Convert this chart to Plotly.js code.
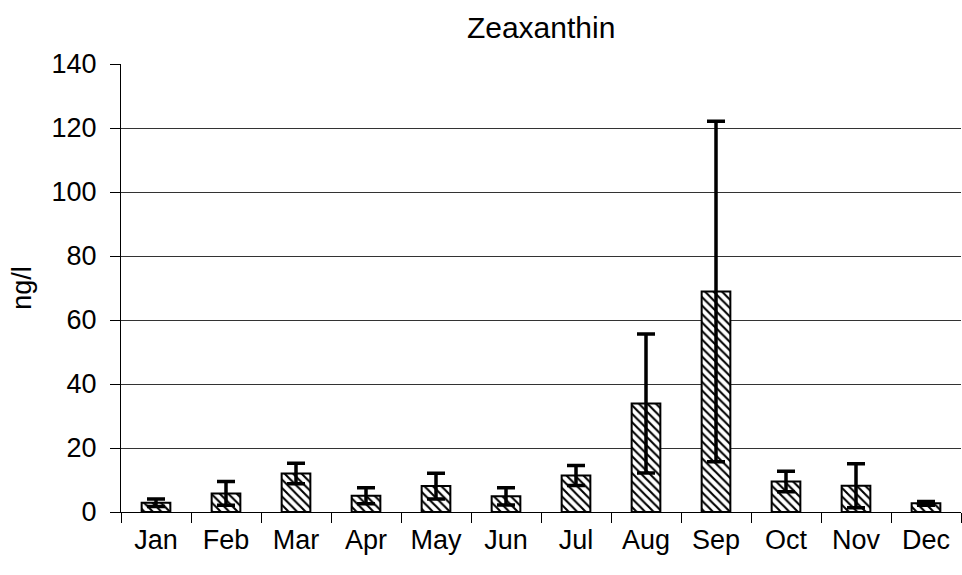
<!DOCTYPE html>
<html>
<head>
<meta charset="utf-8">
<script src="https://cdn.plot.ly/plotly-3.0.1.min.js"></script>
<style>html,body{margin:0;padding:0;background:#fff;}#chart{width:962px;height:575px;}</style>
</head>
<body>
<div id="chart"></div>
<script>
const months = ["Jan","Feb","Mar","Apr","May","Jun","Jul","Aug","Sep","Oct","Nov","Dec"];
const zeaxanthin = [2.9, 5.8, 12.0, 5.1, 8.1, 4.9, 11.4, 33.9, 68.9, 9.5, 8.2, 2.7];
const stdev = [1.2, 3.7, 3.2, 2.5, 4.0, 2.7, 3.1, 21.7, 53.2, 3.2, 6.9, 0.6];
const yTicks = [0, 20, 40, 60, 80, 100, 120, 140];

const font = {family: "'Liberation Sans', Arial, sans-serif", color: "#000"};

Plotly.newPlot("chart", [{
  type: "bar",
  x: months,
  y: zeaxanthin,
  marker: {
    color: "#fff",
    line: {color: "#000", width: 2},
    pattern: {shape: "\\", fgcolor: "#000", bgcolor: "#fff", size: 6, solidity: 0.35}
  },
  error_y: {type: "data", array: stdev, visible: true, color: "#000", thickness: 3.5, width: 9}
}], {
  width: 962, height: 575,
  margin: {l: 121, r: 1, t: 64, b: 63},
  paper_bgcolor: "#fff", plot_bgcolor: "#fff",
  showlegend: false,
  bargap: 0.59,
  font: Object.assign({size: 27}, font),
  title: {text: "Zeaxanthin", font: Object.assign({size: 30}, font), x: 0.5625, xanchor: "center", y: 0.953, yanchor: "middle"},
  xaxis: {
    type: "category",
    showline: true, linecolor: "#000", linewidth: 1,
    ticks: "outside", ticklen: 10, tickcolor: "#000", tickson: "boundaries",
    showgrid: false, zeroline: false, ticklabelstandoff: 4,
    tickfont: Object.assign({size: 27}, font)
  },
  yaxis: {
    range: [0, 140], tickvals: yTicks, ticktext: yTicks.map(String),
    showline: true, linecolor: "#000", linewidth: 1,
    ticks: "outside", ticklen: 10, tickcolor: "#000", ticklabelstandoff: 8,
    showgrid: true, gridcolor: "#333", gridwidth: 1, zeroline: false,
    tickfont: Object.assign({size: 27}, font),
    title: {text: "ng/l", font: Object.assign({size: 27}, font), standoff: 12}
  }
}, {displayModeBar: false, staticPlot: true});
</script>
</body>
</html>
